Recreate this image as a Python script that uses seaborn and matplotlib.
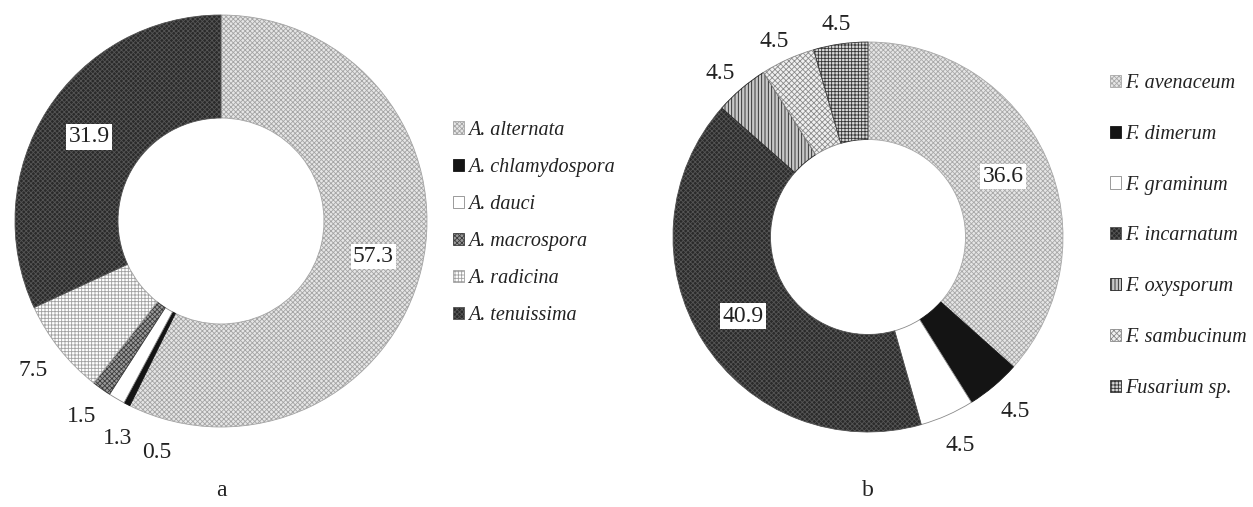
import numpy as np
import matplotlib
matplotlib.use("Agg")
import matplotlib.pyplot as plt
import seaborn as sns

# data (percent of isolates)
species_a = ["A. alternata", "A. chlamydospora", "A. dauci", "A. macrospora",
             "A. radicina", "A. tenuissima"]
share_a = [57.3, 0.5, 1.3, 1.5, 7.5, 31.9]

species_b = ["F. avenaceum", "F. dimerum", "F. graminum", "F. incarnatum",
             "F. oxysporum", "F. sambucinum", "Fusarium sp."]
share_b = [36.6, 4.5, 4.5, 40.9, 4.5, 4.5, 4.5]

captions = ["a", "b"]

# fill styles (face, edge/hatch colour, hatch)
styles_a = [("#e6e6e6", "#a4a4a4", "x" * 7),
            ("#141414", "#141414", ""),
            ("#ffffff", "#8a8a8a", ""),
            ("#9a9a9a", "#3c3c3c", "x" * 7),
            ("#ffffff", "#a0a0a0", "+" * 5),
            ("#2a2a2a", "#555555", "x" * 7)]
styles_b = [("#e6e6e6", "#a8a8a8", "x" * 7),
            ("#141414", "#141414", ""),
            ("#ffffff", "#8a8a8a", ""),
            ("#2a2a2a", "#555555", "x" * 7),
            ("#c8c8c8", "#222222", "|" * 5),
            ("#f0f0f0", "#8a8a8a", "x" * 6),
            ("#d8d8d8", "#333333", "+" * 5)]

sns.set_theme(style="white")
plt.rcParams["font.family"] = ["Liberation Serif", "DejaVu Serif"]
plt.rcParams["hatch.linewidth"] = 0.6

W, H = 1253, 507
fig = plt.figure(figsize=(W / 100, H / 100), dpi=100)
PAD = 1.02


def donut(cx, cy, rpx, values, styles, names, leg_x, leg_y, spacing, caption):
    ax = fig.add_axes([(cx - rpx * PAD) / W, 1 - (cy + rpx * PAD) / H,
                       2 * rpx * PAD / W, 2 * rpx * PAD / H])
    wedges, _ = ax.pie(values, startangle=90, counterclock=False, radius=1,
                       wedgeprops=dict(width=0.5, linewidth=0.6))
    for w, (fc, ec, hatch) in zip(wedges, styles):
        w.set_facecolor(fc)
        w.set_edgecolor(ec)
        w.set_hatch(hatch)
    ax.set_xlim(-PAD, PAD)
    ax.set_ylim(-PAD, PAD)
    ax.set_aspect("equal")
    ax.axis("off")

    # angles clockwise from 12 o'clock
    mids = [(90 - (w.theta1 + w.theta2) / 2) % 360 for w in wedges]
    outside = [i for i, v in enumerate(values) if v < 20]
    ang = {i: mids[i] for i in outside}
    order = sorted(outside, key=lambda i: mids[i], reverse=True)
    gap = 10.0
    # push crowded labels back (counter-clockwise) so they don't overlap
    for a, b in zip(order[:-1], order[1:]):
        if ang[a] - ang[b] < gap:
            ang[b] = ang[a] - gap

    for i, v in enumerate(values):
        txt = f"{v:.1f}"
        if v >= 20:
            t = np.radians(mids[i])
            ax.text(0.76 * np.sin(t), 0.76 * np.cos(t), txt, ha="center",
                    va="center", fontsize=17, color="#222222",
                    bbox=dict(boxstyle="square,pad=0.1", fc="white", ec="none"))
        else:
            t = np.radians(ang[i])
            hh = 6 if np.cos(t) > 0 else 20
            x = 1.07 * np.sin(t) + np.sin(t) * 19 / rpx
            y = 1.07 * np.cos(t) + np.cos(t) * hh / rpx
            ax.text(x, y, txt, ha="center", va="center", fontsize=17,
                    color="#222222")

    fig.legend(wedges, names, loc="center left",
               bbox_to_anchor=(leg_x / W, 1 - leg_y / H), frameon=False,
               prop=dict(style="italic", size=14.5), handlelength=0.55,
               handleheight=0.55, handletextpad=0.2, labelspacing=spacing,
               borderpad=0, borderaxespad=0, labelcolor="#222222")
    fig.text(cx / W, 1 - 490 / H, caption, ha="center", va="center",
             fontsize=17, color="#222222")


donut(221, 221, 206, share_a, styles_a, species_a, 453, 223, 0.9, captions[0])
donut(868, 237, 195, share_b, styles_b, species_b, 1110, 236, 1.58, captions[1])

fig.savefig("out.png", dpi=100, facecolor="white")
